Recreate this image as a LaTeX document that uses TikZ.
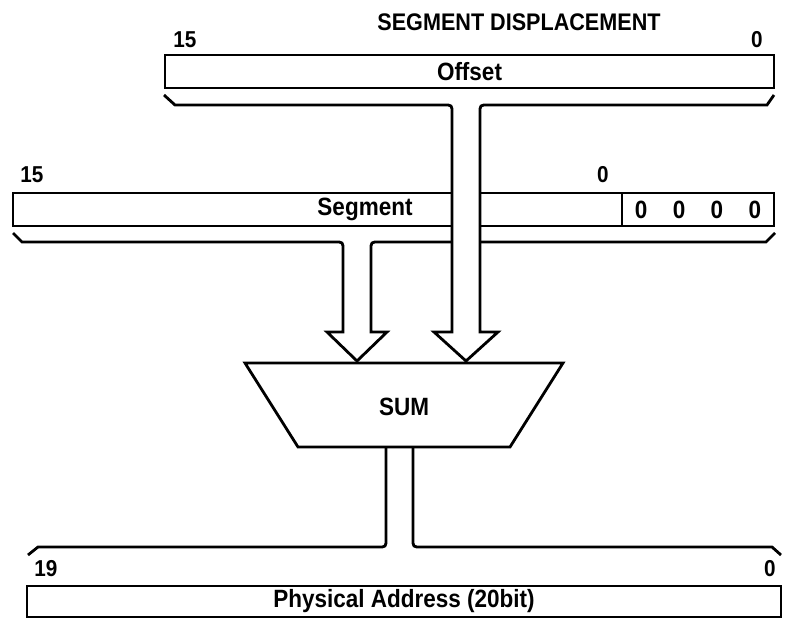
\documentclass[tikz,border=0pt]{standalone}
\usepackage{fontspec}
\setmainfont{Liberation Sans}[FakeStretch=0.9]
\usetikzlibrary{shapes.geometric, positioning, calc}

\begin{document}
\begin{tikzpicture}[
    x=0.5pt, y=-0.5pt,
    font=\fontsize{12.5}{14}\selectfont\bfseries,
    field/.style={draw, line width=1.4pt, minimum height=16.5pt, inner sep=0pt, outer sep=0pt},
    bus/.style={line width=1.4pt, line join=miter},
    num/.style={inner sep=0pt, font=\fontsize{11.5}{13}\selectfont\bfseries}
]
    \useasboundingbox (0,0) rectangle (788,621);

    % --- 偏移量 ---
    \node [num, font=\fontsize{12}{14}\selectfont\bfseries] (title) at (519,22) {SEGMENT DISPLACEMENT};
    \node [field, minimum width=304.5pt] (off) at (469.5,71.5) {Offset};
    \node [num] (off15) at (185,40) {15};
    \node [num] (off0) at (757,40) {0};

    % --- 段寄存器 ---
    \node [field, minimum width=304.5pt] (seg) at (317.5,209.5) {};
    \node [field, minimum width=76pt] (zero) [right=0pt of seg] {0\hspace{12.7pt}0\hspace{12.7pt}0\hspace{12.7pt}0};
    \node (seglbl) at (365,209.5) {Segment};
    \node [num] (seg15) at (32,175) {15};
    \node [num] (seg0) at (603,175) {0};

    % --- 加法器 ---
    \node [inner sep=0pt] (sum) at (404,407) {SUM};
    \draw [bus] (245,363) -- (563,363) -- (510,447) -- (298,447) -- cycle;

    % --- 物理地址 ---
    \node [field, minimum width=377pt, minimum height=15.5pt] (phys) at (404,601.5) {Physical Address (20bit)};
    \node [num] (phys19) at (46,569) {19};
    \node [num] (phys0) at (770,569) {0};

    % 段 -> SUM
    \draw [bus] (13,233) -- (22,242) -- (335,242) .. controls (343,242) .. (343,250) -- (343,332)
        -- (327,332) -- (357,361) -- (387,332) -- (371,332) -- (371,250) .. controls (371,242) .. (379,242)
        -- (766,242) -- (775,233);

    % 偏移 -> SUM (压在段寄存器上面)
    \fill [white] (452,185) rectangle (480,250);
    \draw [bus] (164,95) -- (175,105) -- (444,105) .. controls (452,105) .. (452,113) -- (452,332)
        -- (434,332) -- (466,361) -- (498,332) -- (480,332) -- (480,113) .. controls (480,105) .. (488,105)
        -- (767,105) -- (774,95);

    % SUM -> 物理地址
    \draw [bus] (386,447) -- (386,539) .. controls (386,547) .. (378,547) -- (38,547) -- (28,555);
    \draw [bus] (413,447) -- (413,539) .. controls (413,547) .. (421,547) -- (772,547) -- (781,555);

\end{tikzpicture}
\end{document}
